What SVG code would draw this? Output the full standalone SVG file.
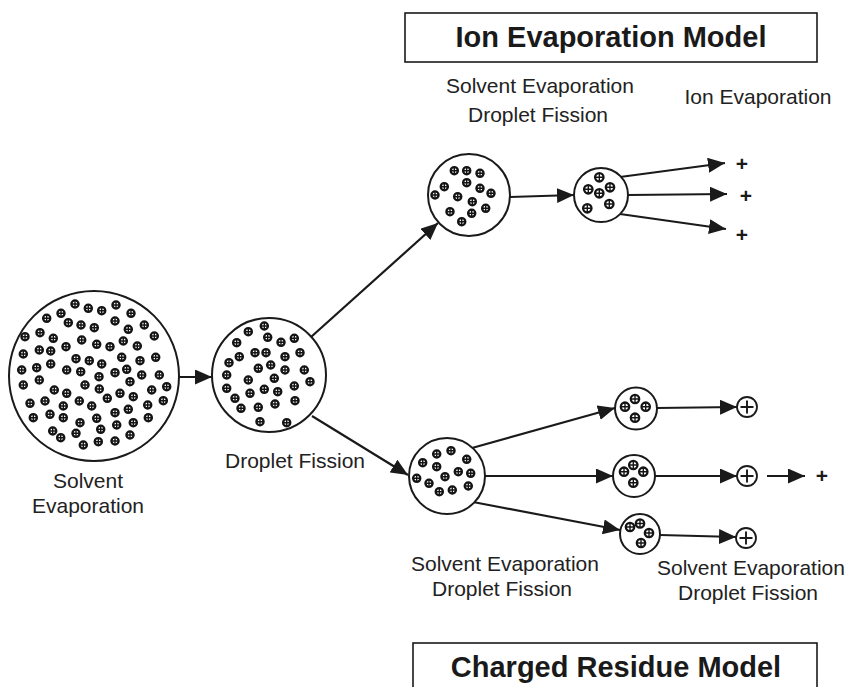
<svg xmlns="http://www.w3.org/2000/svg" xmlns:xlink="http://www.w3.org/1999/xlink" width="849" height="687" viewBox="0 0 849 687">
  <style>
    .drop { fill: #fff; stroke: #1a1a1a; stroke-width: 2; }
    .lbl { font-family: "Liberation Sans", Arial, sans-serif; font-size: 21px; fill: #222; text-anchor: middle; }
    .title { font-family: "Liberation Sans", Arial, sans-serif; font-size: 29px; font-weight: bold; fill: #1a1a1a; text-anchor: middle; }
    .box { fill: #fff; stroke: #1a1a1a; stroke-width: 1.6; }
    .edge { stroke: #1a1a1a; stroke-width: 2.2; fill: none; marker-end: url(#arrow); }
    .ionring { fill: #fff; stroke: #1a1a1a; stroke-width: 1.8; }
    .plus { font-family: "Liberation Sans", Arial, sans-serif; font-size: 21px; font-weight: bold; fill: #1a1a1a; text-anchor: middle; }
  </style>
  <defs>
    <marker id="arrow" markerUnits="userSpaceOnUse" markerWidth="18" markerHeight="15" refX="17" refY="7.5" orient="auto">
      <path d="M0,0 L17,7.5 L0,15 z" fill="#1a1a1a"/>
    </marker>
    <!-- charged ion inside a droplet -->
    <g id="ion">
      <circle r="3.6" fill="#fff" stroke="#141414" stroke-width="2.3"/>
      <path d="M-3.6,0H3.6M0,-3.6V3.6" stroke="#141414" stroke-width="1.4"/>
    </g>
    <!-- slightly larger ion used in the small droplets -->
    <g id="ionL">
      <circle r="4.2" fill="#fff" stroke="#141414" stroke-width="2.3"/>
      <path d="M-4.2,0H4.2M0,-4.2V4.2" stroke="#141414" stroke-width="1.4"/>
    </g>
    <!-- single free ion -->
    <g id="freeion">
      <circle r="10" class="ionring"/>
      <path d="M-6.5,0H6.5M0,-6.5V6.5" stroke="#1a1a1a" stroke-width="1.9"/>
    </g>
  </defs>

  <rect width="849" height="687" fill="#fff"/>

  <!-- titles -->
  <g id="ion-evaporation-model">
    <rect class="box" x="405" y="13" width="412" height="49"/>
    <text class="title" x="611" y="47">Ion Evaporation Model</text>
  </g>
  <g id="charged-residue-model">
    <rect class="box" x="413" y="643" width="404" height="52"/>
    <text class="title" x="616" y="677">Charged Residue Model</text>
  </g>

  <!-- connectors -->
  <g id="connectors">
    <line class="edge" x1="179" y1="377" x2="212" y2="377"/>
    <line class="edge" x1="311" y1="337" x2="438" y2="223"/>
    <line class="edge" x1="312" y1="416" x2="408" y2="475"/>
    <line class="edge" x1="510" y1="197" x2="574" y2="195"/>
    <line class="edge" x1="620" y1="177" x2="725" y2="163"/>
    <line class="edge" x1="628" y1="195" x2="727" y2="194"/>
    <line class="edge" x1="620" y1="214" x2="726" y2="229"/>
    <line class="edge" x1="472" y1="448" x2="615" y2="408"/>
    <line class="edge" x1="485" y1="476" x2="613" y2="476"/>
    <line class="edge" x1="473" y1="502" x2="620" y2="530"/>
    <line class="edge" x1="657" y1="408" x2="737" y2="407"/>
    <line class="edge" x1="655" y1="476" x2="737" y2="476"/>
    <line class="edge" x1="767" y1="476" x2="805" y2="476"/>
    <line class="edge" x1="660" y1="535" x2="736" y2="537"/>
  </g>

  <!-- initial large droplet -->
  <g id="droplet-initial">
    <circle class="drop" cx="94" cy="376" r="85"/>
    <use xlink:href="#ion" x="75" y="304"/><use xlink:href="#ion" x="88.3" y="308.3"/><use xlink:href="#ion" x="101.7" y="310.7"/><use xlink:href="#ion" x="116" y="305"/><use xlink:href="#ion" x="131" y="313.3"/>
    <use xlink:href="#ion" x="46.7" y="318.3"/><use xlink:href="#ion" x="61" y="313.3"/><use xlink:href="#ion" x="68.3" y="322.7"/><use xlink:href="#ion" x="81" y="325"/><use xlink:href="#ion" x="94.3" y="327.7"/><use xlink:href="#ion" x="115" y="321"/><use xlink:href="#ion" x="128.3" y="329.3"/><use xlink:href="#ion" x="144.3" y="325"/>
    <use xlink:href="#ion" x="25" y="336.7"/><use xlink:href="#ion" x="40" y="332.7"/><use xlink:href="#ion" x="53.3" y="338.3"/><use xlink:href="#ion" x="81.7" y="340"/><use xlink:href="#ion" x="96.7" y="344.3"/><use xlink:href="#ion" x="110" y="346.7"/><use xlink:href="#ion" x="123.3" y="341"/><use xlink:href="#ion" x="137.3" y="346"/><use xlink:href="#ion" x="154.3" y="336"/>
    <use xlink:href="#ion" x="23.3" y="354"/><use xlink:href="#ion" x="39.3" y="350"/><use xlink:href="#ion" x="50.7" y="351"/><use xlink:href="#ion" x="66" y="346.7"/><use xlink:href="#ion" x="76" y="358.7"/><use xlink:href="#ion" x="89.3" y="360.7"/><use xlink:href="#ion" x="101.7" y="364"/><use xlink:href="#ion" x="121.7" y="357.3"/><use xlink:href="#ion" x="140" y="360.7"/><use xlink:href="#ion" x="155.7" y="357.3"/>
    <use xlink:href="#ion" x="21.7" y="370"/><use xlink:href="#ion" x="36.7" y="367.7"/><use xlink:href="#ion" x="50.7" y="364"/><use xlink:href="#ion" x="66.7" y="370"/><use xlink:href="#ion" x="80.7" y="371.7"/><use xlink:href="#ion" x="99" y="376.7"/><use xlink:href="#ion" x="115" y="372.7"/><use xlink:href="#ion" x="126.7" y="369.3"/><use xlink:href="#ion" x="141.7" y="375"/><use xlink:href="#ion" x="159.3" y="375"/>
    <use xlink:href="#ion" x="23.3" y="385"/><use xlink:href="#ion" x="39.3" y="380"/><use xlink:href="#ion" x="54.3" y="390"/><use xlink:href="#ion" x="66.7" y="393.3"/><use xlink:href="#ion" x="85" y="385"/><use xlink:href="#ion" x="99.3" y="389"/><use xlink:href="#ion" x="107.3" y="398.3"/><use xlink:href="#ion" x="120" y="393.3"/><use xlink:href="#ion" x="130" y="381.7"/><use xlink:href="#ion" x="133.3" y="396.7"/><use xlink:href="#ion" x="151.7" y="390"/><use xlink:href="#ion" x="166.7" y="386.7"/>
    <use xlink:href="#ion" x="30" y="403.3"/><use xlink:href="#ion" x="45" y="401"/><use xlink:href="#ion" x="63.3" y="406"/><use xlink:href="#ion" x="79.3" y="401"/><use xlink:href="#ion" x="91.7" y="406"/><use xlink:href="#ion" x="115" y="412.7"/><use xlink:href="#ion" x="128.3" y="409.3"/><use xlink:href="#ion" x="147.7" y="405"/><use xlink:href="#ion" x="163.3" y="400.7"/>
    <use xlink:href="#ion" x="33.3" y="417.7"/><use xlink:href="#ion" x="50" y="414.3"/><use xlink:href="#ion" x="63.3" y="417.7"/><use xlink:href="#ion" x="80" y="422.7"/><use xlink:href="#ion" x="96.7" y="418.3"/><use xlink:href="#ion" x="116.7" y="425"/><use xlink:href="#ion" x="133.3" y="422.7"/><use xlink:href="#ion" x="148.3" y="417.7"/>
    <use xlink:href="#ion" x="52.7" y="431"/><use xlink:href="#ion" x="60.7" y="437.7"/><use xlink:href="#ion" x="76" y="433.3"/><use xlink:href="#ion" x="100.7" y="429.3"/><use xlink:href="#ion" x="98.3" y="441.7"/><use xlink:href="#ion" x="115" y="441"/><use xlink:href="#ion" x="130" y="435"/><use xlink:href="#ion" x="83.3" y="445"/>
    <text class="lbl" x="88" y="488">Solvent</text>
    <text class="lbl" x="88" y="513">Evaporation</text>
  </g>

  <!-- droplet after first fission -->
  <g id="droplet-second">
    <circle class="drop" cx="269" cy="375" r="57"/>
    <use xlink:href="#ion" x="264.3" y="326"/><use xlink:href="#ion" x="248.3" y="331.7"/><use xlink:href="#ion" x="267.7" y="337.3"/><use xlink:href="#ion" x="236.7" y="342.7"/><use xlink:href="#ion" x="281" y="342.3"/><use xlink:href="#ion" x="294.3" y="338.3"/>
    <use xlink:href="#ion" x="239.3" y="356.7"/><use xlink:href="#ion" x="255" y="352.7"/><use xlink:href="#ion" x="266" y="352.7"/><use xlink:href="#ion" x="285" y="356.7"/><use xlink:href="#ion" x="300" y="352.7"/><use xlink:href="#ion" x="229" y="362.7"/>
    <use xlink:href="#ion" x="258.3" y="368.3"/><use xlink:href="#ion" x="270.7" y="365"/><use xlink:href="#ion" x="285" y="370"/><use xlink:href="#ion" x="304.3" y="370"/><use xlink:href="#ion" x="226.7" y="375"/><use xlink:href="#ion" x="248.3" y="380"/>
    <use xlink:href="#ion" x="274.3" y="378.3"/><use xlink:href="#ion" x="264.3" y="389.3"/><use xlink:href="#ion" x="277.7" y="391.7"/><use xlink:href="#ion" x="294.3" y="386"/><use xlink:href="#ion" x="310" y="381.7"/><use xlink:href="#ion" x="226.7" y="388.3"/>
    <use xlink:href="#ion" x="235" y="398.3"/><use xlink:href="#ion" x="250" y="393.3"/><use xlink:href="#ion" x="258.3" y="407.3"/><use xlink:href="#ion" x="241" y="408.3"/><use xlink:href="#ion" x="275" y="404"/><use xlink:href="#ion" x="295" y="400.7"/>
    <use xlink:href="#ion" x="260" y="421.7"/><use xlink:href="#ion" x="286.7" y="422.7"/>
    <text class="lbl" x="295" y="468">Droplet Fission</text>
  </g>

  <!-- ion evaporation branch -->
  <g id="iem-droplet-1">
    <circle class="drop" cx="469" cy="195" r="41"/>
    <use xlink:href="#ion" x="454.3" y="170.7"/><use xlink:href="#ion" x="466.7" y="170.7"/><use xlink:href="#ion" x="480" y="173.3"/><use xlink:href="#ion" x="444.3" y="186.7"/><use xlink:href="#ion" x="466.7" y="182.7"/><use xlink:href="#ion" x="480" y="188.3"/><use xlink:href="#ion" x="491" y="193.3"/>
    <use xlink:href="#ion" x="435" y="195"/><use xlink:href="#ion" x="457.7" y="196.7"/><use xlink:href="#ion" x="472.3" y="201.7"/><use xlink:href="#ion" x="485.7" y="208.3"/><use xlink:href="#ion" x="450" y="211.7"/><use xlink:href="#ion" x="471.7" y="213.3"/><use xlink:href="#ion" x="461.7" y="221.7"/>
  </g>
  <g id="iem-labels">
    <text class="lbl" x="540" y="93">Solvent Evaporation</text>
    <text class="lbl" x="538" y="122">Droplet Fission</text>
    <text class="lbl" x="758" y="104">Ion Evaporation</text>
  </g>
  <g id="iem-droplet-2">
    <circle class="drop" cx="601" cy="195" r="27"/>
    <use xlink:href="#ionL" x="599.3" y="177.3"/><use xlink:href="#ionL" x="588.3" y="189.3"/><use xlink:href="#ionL" x="599.3" y="193.3"/><use xlink:href="#ionL" x="610" y="187.3"/><use xlink:href="#ionL" x="587.3" y="208.3"/><use xlink:href="#ionL" x="609.3" y="204"/>
  </g>
  <g id="iem-ions">
    <text class="plus" x="742" y="171">+</text>
    <text class="plus" x="746" y="203">+</text>
    <text class="plus" x="742" y="242">+</text>
  </g>

  <!-- charged residue branch -->
  <g id="crm-droplet">
    <circle class="drop" cx="447" cy="476" r="38"/>
    <use xlink:href="#ion" x="451" y="450.7"/><use xlink:href="#ion" x="436.7" y="454"/><use xlink:href="#ion" x="422.7" y="462.7"/><use xlink:href="#ion" x="436.7" y="466.7"/><use xlink:href="#ion" x="466.7" y="459.3"/><use xlink:href="#ion" x="445" y="476.7"/><use xlink:href="#ion" x="458.3" y="471.7"/>
    <use xlink:href="#ion" x="470.7" y="473.3"/><use xlink:href="#ion" x="416.7" y="478.3"/><use xlink:href="#ion" x="429" y="483.3"/><use xlink:href="#ion" x="439.3" y="491.7"/><use xlink:href="#ion" x="452.3" y="490"/><use xlink:href="#ion" x="468.3" y="486"/>
    <text class="lbl" x="505" y="571">Solvent Evaporation</text>
    <text class="lbl" x="502" y="596">Droplet Fission</text>
  </g>
  <g id="crm-small-1">
    <circle class="drop" cx="636" cy="408.5" r="21"/>
    <use xlink:href="#ionL" x="635" y="399"/><use xlink:href="#ionL" x="625" y="406.7"/><use xlink:href="#ionL" x="645.7" y="406.7"/><use xlink:href="#ionL" x="635" y="417.7"/>
  </g>
  <g id="crm-small-2">
    <circle class="drop" cx="634" cy="476" r="21"/>
    <use xlink:href="#ionL" x="633.3" y="465"/><use xlink:href="#ionL" x="624" y="471.7"/><use xlink:href="#ionL" x="643.3" y="471.7"/><use xlink:href="#ionL" x="633.3" y="482.7"/>
  </g>
  <g id="crm-small-3">
    <circle class="drop" cx="640" cy="534" r="20"/>
    <use xlink:href="#ionL" x="630" y="527"/><use xlink:href="#ionL" x="640" y="523.5"/><use xlink:href="#ionL" x="649" y="533"/><use xlink:href="#ionL" x="641" y="543"/>
  </g>
  <g id="crm-ion-1"><use xlink:href="#freeion" x="747" y="407"/></g>
  <g id="crm-ion-2">
    <use xlink:href="#freeion" x="747" y="476"/>
    <text class="plus" x="822" y="483">+</text>
  </g>
  <g id="crm-ion-3"><use xlink:href="#freeion" x="746" y="538"/></g>
  <g id="crm-labels">
    <text class="lbl" x="751" y="575">Solvent Evaporation</text>
    <text class="lbl" x="748" y="600">Droplet Fission</text>
  </g>
</svg>
